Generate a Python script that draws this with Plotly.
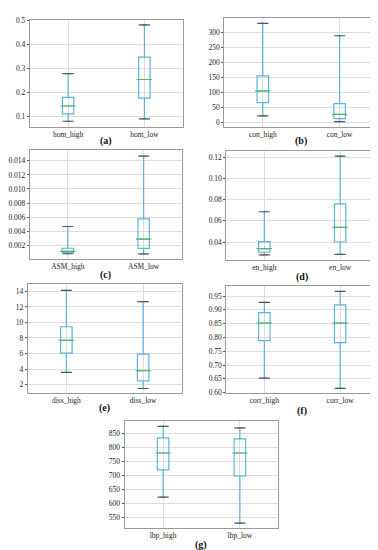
import plotly.graph_objects as go

W, H = 378, 550

# data: [lowerfence, q1, median, q3, upperfence] per category
cats_a = ["hom_high", "hom_low"]
hom_high = [0.079, 0.110, 0.143, 0.179, 0.279]
hom_low = [0.089, 0.176, 0.254, 0.348, 0.483]

cats_b = ["con_high", "con_low"]
con_high = [23, 67, 106, 156, 331]
con_low = [4, 14, 28, 64, 290]

cats_c = ["ASM_high", "ASM_low"]
asm_high = [0.00082, 0.0010, 0.00115, 0.0016, 0.00468]
asm_low = [0.0008, 0.00158, 0.0029, 0.00576, 0.01466]

cats_d = ["en_high", "en_low"]
en_high = [0.0278, 0.0303, 0.0337, 0.0403, 0.0686]
en_low = [0.0284, 0.0400, 0.0538, 0.0760, 0.1212]

cats_e = ["diss_high", "diss_low"]
diss_high = [3.57, 6.04, 7.70, 9.45, 14.13]
diss_low = [1.49, 2.47, 3.79, 5.91, 12.68]

cats_f = ["corr_high", "corr_low"]
corr_high = [0.6526, 0.7887, 0.852, 0.890, 0.927]
corr_low = [0.6155, 0.7815, 0.852, 0.918, 0.967]

cats_g = ["lbp_high", "lbp_low"]
lbp_high = [622, 720, 781, 835, 877]
lbp_low = [529, 699, 781, 832, 871]

panel_labels = ["(a)", "(b)", "(c)", "(d)", "(e)", "(f)", "(g)"]

panels = [
    dict(cats=cats_a, vals=[hom_high, hom_low], box=(21, 174, 9, 117), yr=[0.057, 0.504],
         tv=[0.1, 0.2, 0.3, 0.4, 0.5], tt=["0.1", "0.2", "0.3", "0.4", "0.5"], ly=132),
    dict(cats=cats_b, vals=[con_high, con_low], box=(216, 370, 7, 117), yr=[-12.5, 349.5],
         tv=[0, 50, 100, 150, 200, 250, 300], tt=None, ly=132),
    dict(cats=cats_c, vals=[asm_high, asm_low], box=(21, 173, 141, 251), yr=[0.0001, 0.0155],
         tv=[0.002, 0.004, 0.006, 0.008, 0.010, 0.012, 0.014],
         tt=["0.002", "0.004", "0.006", "0.008", "0.010", "0.012", "0.014"], ly=267),
    dict(cats=cats_d, vals=[en_high, en_low], box=(218, 370, 142, 252), yr=[0.0232, 0.1258],
         tv=[0.04, 0.06, 0.08, 0.10, 0.12], tt=["0.04", "0.06", "0.08", "0.10", "0.12"], ly=269),
    dict(cats=cats_e, vals=[diss_high, diss_low], box=(19, 173, 277, 387), yr=[0.9, 14.9],
         tv=[2, 4, 6, 8, 10, 12, 14], tt=None, ly=402),
    dict(cats=cats_f, vals=[corr_high, corr_low], box=(218, 370, 279, 387), yr=[0.5985, 0.9848],
         tv=[0.60, 0.65, 0.70, 0.75, 0.80, 0.85, 0.90, 0.95],
         tt=["0.60", "0.65", "0.70", "0.75", "0.80", "0.85", "0.90", "0.95"], ly=405),
    dict(cats=cats_g, vals=[lbp_high, lbp_low], box=(116, 270, 415, 524), yr=[510, 897],
         tv=[550, 600, 650, 700, 750, 800, 850], tt=None, ly=541),
]

BOX_C = "#5ab4dc"
CAP_C = "#555555"
MED_C = "#5cb85c"
GRID_C = "#dcdcdc"
FONT = "Liberation Serif, Times New Roman, serif"

fig = go.Figure()
annotations = []
layout = {}
for i, p in enumerate(panels):
    n = "" if i == 0 else str(i + 1)
    xa, ya = "x" + n, "y" + n
    x0, x1, y0, y1 = p["box"]
    lo = [v[0] for v in p["vals"]]
    q1 = [v[1] for v in p["vals"]]
    md = [v[2] for v in p["vals"]]
    q3 = [v[3] for v in p["vals"]]
    hi = [v[4] for v in p["vals"]]
    fig.add_trace(go.Box(x=p["cats"], q1=q1, median=md, q3=q3, lowerfence=lo, upperfence=hi,
                         xaxis=xa, yaxis=ya, width=0.15, line=dict(color=BOX_C, width=1.2),
                         fillcolor="rgba(0,0,0,0)", boxpoints=False, showlegend=False,
                         hoverinfo="skip"))
    # medians
    fig.add_trace(go.Scatter(x=p["cats"], y=md, mode="markers", xaxis=xa, yaxis=ya,
                             marker=dict(symbol="line-ew", size=11, line=dict(color=MED_C, width=1.2)),
                             showlegend=False, hoverinfo="skip"))
    # caps
    fig.add_trace(go.Scatter(x=p["cats"] + p["cats"], y=lo + hi, mode="markers", xaxis=xa, yaxis=ya,
                             marker=dict(symbol="line-ew", size=8, line=dict(color=CAP_C, width=1.2)),
                             showlegend=False, hoverinfo="skip"))
    layout["xaxis" + n] = dict(domain=[x0 / W, x1 / W], anchor=ya, range=[-0.5, 1.5],
                               type="category", showgrid=True, gridcolor=GRID_C, gridwidth=1,
                               showline=True, mirror=True, linecolor="#9a9a9a", linewidth=1.2,
                               ticks="", tickfont=dict(family=FONT, size=7.5, color="#222"),
                               zeroline=False, fixedrange=True)
    yd = dict(domain=[1 - y1 / H, 1 - y0 / H], anchor=xa, range=p["yr"],
              tickvals=p["tv"], showgrid=True, gridcolor=GRID_C, gridwidth=1,
              showline=True, mirror=True, linecolor="#9a9a9a", linewidth=1.2,
              ticks="outside", ticklen=2, tickcolor="#555",
              tickfont=dict(family=FONT, size=7.5, color="#222"), zeroline=False, fixedrange=True)
    if p["tt"]:
        yd["ticktext"] = p["tt"]
    layout["yaxis" + n] = yd
    annotations.append(dict(text="<b>" + panel_labels[i] + "</b>", xref="paper", yref="paper",
                            x=(x0 + x1) / 2 / W, y=1 - p["ly"] / H, showarrow=False,
                            font=dict(family=FONT, size=10, color="#111"),
                            xanchor="center", yanchor="middle"))

fig.update_layout(width=W, height=H, margin=dict(l=0, r=0, t=0, b=0),
                  plot_bgcolor="white", paper_bgcolor="white",
                  annotations=annotations, **layout)
fig.write_html("out.html")
